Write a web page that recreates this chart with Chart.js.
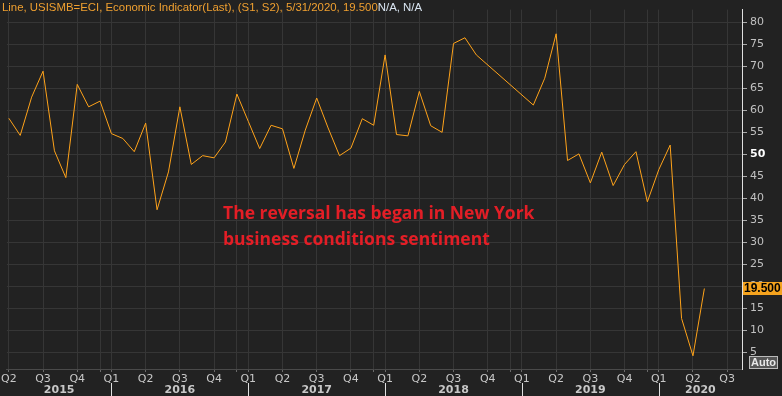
<!DOCTYPE html>
<html>
<head>
<meta charset="utf-8">
<script src="https://cdn.jsdelivr.net/npm/chart.js@4.4.1/dist/chart.umd.min.js"></script>
<style>
  html, body { margin: 0; padding: 0; background: #222222; }
  #wrap { position: relative; width: 782px; height: 396px; }
  #title { position: absolute; left: 2px; top: 1px; font: 11.4px "Liberation Sans"; color: #f0a030; white-space: nowrap; }
  #title span { color: #d8e4f0; }
  #note { position: absolute; left: 223px; top: 199px; font: 700 17.5px "Open Sans"; color: #e31e26; line-height: 26px; white-space: nowrap; }
</style>
</head>
<body>
<div id="wrap">
  <canvas id="myChart" width="782" height="396"></canvas>
  <div id="title">Line, USISMB=ECI, Economic Indicator(Last), (S1, S2), 5/31/2020, 19.500<span>N/A, N/A</span></div>
  <div id="note">The reversal has began in New York<br>business conditions sentiment</div>
</div>
<script>
// monthly readings, ISM-New York business conditions
const months = [
  '2015-04', '2015-05', '2015-06', '2015-07', '2015-08', '2015-09', '2015-10', '2015-11', '2015-12',
  '2016-01', '2016-02', '2016-03', '2016-04', '2016-05', '2016-06', '2016-07', '2016-08', '2016-09', '2016-10', '2016-11', '2016-12',
  '2017-01', '2017-02', '2017-03', '2017-04', '2017-05', '2017-06', '2017-07', '2017-08', '2017-09', '2017-10', '2017-11', '2017-12',
  '2018-01', '2018-02', '2018-03', '2018-04', '2018-05', '2018-06', '2018-07', '2018-08', '2018-09', '2018-10', '2018-11', '2018-12',
  '2019-01', '2019-02', '2019-03', '2019-04', '2019-05', '2019-06', '2019-07', '2019-08', '2019-09', '2019-10', '2019-11', '2019-12',
  '2020-01', '2020-02', '2020-03', '2020-04', '2020-05'
];
const values = [
  58.2, 54.3, 63.0, 68.9, 50.8, 44.7, 65.9, 60.8, 62.1,
  54.7, 53.6, 50.6, 57.1, 37.4, 46.0, 60.8, 47.7, 49.7, 49.2, 52.8, 63.7,
  57.5, 51.3, 56.6, 55.8, 46.8, 55.5, 62.8, 56.0, 49.7, 51.4, 58.1, 56.6,
  72.6, 54.5, 54.2, 64.3, 56.5, 55.0, 75.2, 76.5, 72.6, null, null, null,
  null, 61.2, 67.3, 77.4, 48.6, 50.1, 43.5, 50.5, 42.9, 47.7, 50.6, 39.2,
  46.5, 52.1, 12.7, 4.2, 19.5
];
const yTicks = [5, 10, 15, 20, 25, 30, 35, 40, 45, 50, 55, 60, 65, 70, 75, 80];
const quarterNames = ['Q1', 'Q2', 'Q3', 'Q4'];
const years = ['2015', '2016', '2017', '2018', '2019', '2020'];
const lastLabel = '19.500';

const baseYear = 2015;
function monthIndex(s) {
  const [y, m] = s.split('-').map(Number);
  return (y - baseYear) * 12 + (m - 1);
}
const points = months.map((m, i) => ({ x: monthIndex(m), y: values[i] }));

// quarter starts plus the December lines the terminal draws
const xTickValues = [];
for (let v = 3; v <= 66; v += 3) xTickValues.push(v);
for (let v = 11; v < 66; v += 12) xTickValues.push(v);
xTickValues.sort((a, b) => a - b);

const extras = {
  id: 'extras',
  afterDraw(chart) {
    const c = chart.ctx;
    const xs = chart.scales.x, ys = chart.scales.y;
    const area = chart.chartArea;
    c.save();
    // year separators and labels
    c.strokeStyle = '#e0e0e0';
    c.lineWidth = 1;
    c.fillStyle = '#c8c8c8';
    c.font = 'bold 11px "DejaVu Sans"';
    c.textAlign = 'center';
    c.textBaseline = 'middle';
    years.forEach((yr, i) => {
      const start = i * 12, end = start + 12;
      if (i > 0) {
        const px = Math.round(xs.getPixelForValue(start)) + 0.5;
        c.beginPath(); c.moveTo(px, 383); c.lineTo(px, 396); c.stroke();
      }
      const a = Math.max(start, xs.min), b = Math.min(end, xs.max);
      c.fillText(yr, xs.getPixelForValue((a + b) / 2), 390);
    });
    // last value box
    const yv = ys.getPixelForValue(values[values.length - 1]);
    c.fillStyle = '#f5a31e';
    c.fillRect(area.right + 1, yv - 6.5, 782 - area.right - 1, 13);
    c.fillStyle = '#000000';
    c.font = 'bold 12px "Liberation Sans"';
    c.textAlign = 'left';
    c.fillText(lastLabel, area.right + 2, yv + 0.5);
    // Auto button
    c.fillStyle = '#555555';
    c.fillRect(749.5, 356.5, 28, 12);
    c.strokeStyle = '#bbbbbb';
    c.strokeRect(749.5, 356.5, 28, 12);
    c.fillStyle = '#e8e8e8';
    c.font = 'bold 11px "Liberation Sans"';
    c.fillText('Auto', 751, 363);
    c.restore();
  }
};

const ctx = document.getElementById('myChart');
new Chart(ctx, {
  type: 'line',
  data: {
    datasets: [{
      data: points,
      borderColor: '#ffa31a',
      borderWidth: 1,
      pointRadius: 0,
      tension: 0,
      spanGaps: true
    }]
  },
  options: {
    responsive: false,
    animation: false,
    layout: { padding: 0, autoPadding: false },
    plugins: {
      legend: { display: false },
      tooltip: { enabled: false }
    },
    scales: {
      x: {
        type: 'linear',
        min: 2.83,
        max: 67.3,
        afterBuildTicks: s => { s.ticks = xTickValues.map(v => ({ value: v })); },
        afterFit: s => { s.height = 27; },
        grid: { color: '#363636', tickColor: '#6a6a6a', tickLength: 3 },
        border: { color: '#4a4a4a' },
        ticks: {
          autoSkip: false,
          maxRotation: 0,
          color: '#c8c8c8',
          padding: 1,
          font: { family: 'DejaVu Sans', size: 11 },
          callback: v => v % 3 === 0 ? quarterNames[(v % 12) / 3] : ''
        }
      },
      y: {
        position: 'right',
        min: 1.2,
        max: 82.9,
        afterBuildTicks: s => { s.ticks = yTicks.map(v => ({ value: v })); },
        afterFit: s => { s.width = 40; },
        grid: { color: '#363636', tickColor: '#aaaaaa', tickLength: 5 },
        border: { color: '#e0e0e0' },
        ticks: {
          padding: 3,
          color: c => c.tick && c.tick.value === 50 ? '#ffffff' : '#c0c0c0',
          font: c => ({ family: 'DejaVu Sans', size: 11, weight: c.tick && c.tick.value === 50 ? 'bold' : 'normal' })
        }
      }
    }
  },
  plugins: [extras]
});
</script>
</body>
</html>
